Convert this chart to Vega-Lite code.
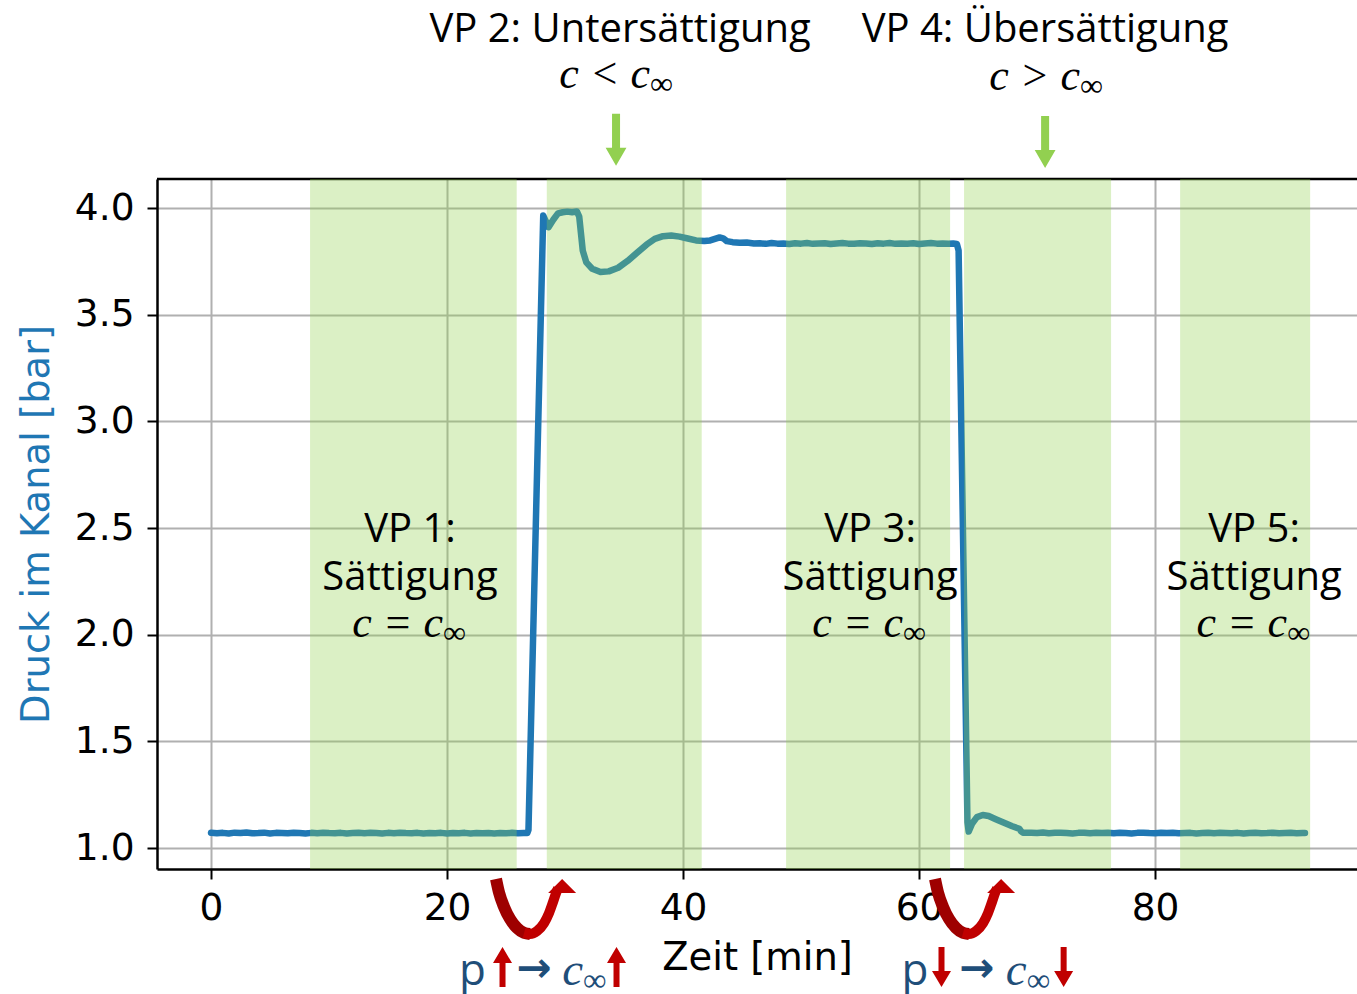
{
  "$schema": "https://vega.github.io/schema/vega-lite/v6.json",
  "width": 1200,
  "height": 690,
  "autosize": {"type": "none"},
  "padding": {"left": 157, "top": 179, "right": 0, "bottom": 125},
  "background": "white",
  "config": {
    "view": {"stroke": null},
    "axis": {
      "domainColor": "black", "domainWidth": 2.5,
      "tickColor": "black", "tickWidth": 2, "tickSize": 10,
      "labelFont": "DejaVu Sans", "labelFontSize": 37.5, "labelColor": "black",
      "labelFlush": false, "labelOverlap": false,
      "titleFont": "DejaVu Sans", "titleFontSize": 38.5, "titleFontWeight": "normal",
      "gridColor": "#b0b0b0", "gridWidth": 2, "gridOpacity": 1
    },
    "text": {"font": "Open Sans", "fontSize": 40, "color": "black"}
  },
  "datasets": {
    "druck": [
      {"t": 0.0, "p": 1.072}, {"t": 0.5, "p": 1.069}, {"t": 1.0, "p": 1.071}, {"t": 1.5, "p": 1.068},
      {"t": 2.0, "p": 1.072}, {"t": 2.5, "p": 1.070}, {"t": 3.0, "p": 1.073}, {"t": 3.5, "p": 1.069},
      {"t": 4.0, "p": 1.070}, {"t": 4.5, "p": 1.072}, {"t": 5.0, "p": 1.068}, {"t": 5.5, "p": 1.071},
      {"t": 6.0, "p": 1.070}, {"t": 6.5, "p": 1.069}, {"t": 7.0, "p": 1.072}, {"t": 7.5, "p": 1.070},
      {"t": 8.0, "p": 1.068}, {"t": 8.5, "p": 1.071}, {"t": 9.0, "p": 1.069}, {"t": 9.5, "p": 1.072},
      {"t": 10.0, "p": 1.070}, {"t": 10.5, "p": 1.069}, {"t": 11.0, "p": 1.071}, {"t": 11.5, "p": 1.068},
      {"t": 12.0, "p": 1.070}, {"t": 12.5, "p": 1.072}, {"t": 13.0, "p": 1.069}, {"t": 13.5, "p": 1.071},
      {"t": 14.0, "p": 1.070}, {"t": 14.5, "p": 1.068}, {"t": 15.0, "p": 1.071}, {"t": 15.5, "p": 1.069},
      {"t": 16.0, "p": 1.072}, {"t": 16.5, "p": 1.070}, {"t": 17.0, "p": 1.069}, {"t": 17.5, "p": 1.071},
      {"t": 18.0, "p": 1.068}, {"t": 18.5, "p": 1.070}, {"t": 19.0, "p": 1.069}, {"t": 19.5, "p": 1.071},
      {"t": 20.0, "p": 1.068}, {"t": 20.5, "p": 1.070}, {"t": 21.0, "p": 1.069}, {"t": 21.5, "p": 1.071},
      {"t": 22.0, "p": 1.068}, {"t": 22.5, "p": 1.070}, {"t": 23.0, "p": 1.069}, {"t": 23.5, "p": 1.070},
      {"t": 24.0, "p": 1.068}, {"t": 24.5, "p": 1.070}, {"t": 25.0, "p": 1.069}, {"t": 25.5, "p": 1.071},
      {"t": 26.0, "p": 1.069}, {"t": 26.5, "p": 1.070}, {"t": 26.8, "p": 1.070},
      {"t": 26.9, "p": 1.085}, {"t": 28.15, "p": 3.965},
      {"t": 28.6, "p": 3.910}, {"t": 29.0, "p": 3.945}, {"t": 29.4, "p": 3.975}, {"t": 29.8, "p": 3.980},
      {"t": 30.2, "p": 3.983}, {"t": 30.6, "p": 3.980}, {"t": 31.0, "p": 3.984}, {"t": 31.2, "p": 3.960},
      {"t": 31.35, "p": 3.880}, {"t": 31.5, "p": 3.800}, {"t": 31.8, "p": 3.745}, {"t": 32.3, "p": 3.715},
      {"t": 33.0, "p": 3.700}, {"t": 33.7, "p": 3.703}, {"t": 34.5, "p": 3.720}, {"t": 35.3, "p": 3.752},
      {"t": 36.1, "p": 3.790}, {"t": 36.9, "p": 3.828}, {"t": 37.6, "p": 3.855}, {"t": 38.3, "p": 3.868},
      {"t": 39.0, "p": 3.871}, {"t": 39.7, "p": 3.866}, {"t": 40.4, "p": 3.857}, {"t": 41.1, "p": 3.848},
      {"t": 41.8, "p": 3.845}, {"t": 42.3, "p": 3.848}, {"t": 42.7, "p": 3.855}, {"t": 43.1, "p": 3.862},
      {"t": 43.4, "p": 3.858}, {"t": 43.7, "p": 3.845}, {"t": 44.2, "p": 3.840}, {"t": 44.8, "p": 3.837},
      {"t": 45.4, "p": 3.838}, {"t": 46.0, "p": 3.834},
      {"t": 46.5, "p": 3.835}, {"t": 47.0, "p": 3.832}, {"t": 47.5, "p": 3.836}, {"t": 48.0, "p": 3.833},
      {"t": 48.5, "p": 3.834}, {"t": 49.0, "p": 3.831}, {"t": 49.5, "p": 3.835}, {"t": 50.0, "p": 3.833},
      {"t": 50.5, "p": 3.836}, {"t": 51.0, "p": 3.832}, {"t": 51.5, "p": 3.834}, {"t": 52.0, "p": 3.835},
      {"t": 52.5, "p": 3.831}, {"t": 53.0, "p": 3.834}, {"t": 53.5, "p": 3.836}, {"t": 54.0, "p": 3.833},
      {"t": 54.5, "p": 3.832}, {"t": 55.0, "p": 3.835}, {"t": 55.5, "p": 3.834}, {"t": 56.0, "p": 3.831},
      {"t": 56.5, "p": 3.835}, {"t": 57.0, "p": 3.833}, {"t": 57.5, "p": 3.836}, {"t": 58.0, "p": 3.832},
      {"t": 58.5, "p": 3.834}, {"t": 59.0, "p": 3.833}, {"t": 59.5, "p": 3.835}, {"t": 60.0, "p": 3.831},
      {"t": 60.5, "p": 3.834}, {"t": 61.0, "p": 3.836}, {"t": 61.5, "p": 3.833}, {"t": 62.0, "p": 3.834},
      {"t": 62.5, "p": 3.832}, {"t": 62.9, "p": 3.834}, {"t": 63.2, "p": 3.832}, {"t": 63.35, "p": 3.800},
      {"t": 64.1, "p": 1.120}, {"t": 64.2, "p": 1.077}, {"t": 64.5, "p": 1.115}, {"t": 64.9, "p": 1.145},
      {"t": 65.4, "p": 1.155}, {"t": 65.9, "p": 1.150}, {"t": 66.5, "p": 1.135}, {"t": 67.2, "p": 1.118},
      {"t": 67.9, "p": 1.102}, {"t": 68.5, "p": 1.090}, {"t": 68.65, "p": 1.078}, {"t": 68.8, "p": 1.072},
      {"t": 69.5, "p": 1.072}, {"t": 70.0, "p": 1.070}, {"t": 70.5, "p": 1.073}, {"t": 71.0, "p": 1.069},
      {"t": 71.5, "p": 1.071}, {"t": 72.0, "p": 1.072}, {"t": 72.5, "p": 1.070}, {"t": 73.0, "p": 1.068},
      {"t": 73.5, "p": 1.071}, {"t": 74.0, "p": 1.072}, {"t": 74.5, "p": 1.069}, {"t": 75.0, "p": 1.071},
      {"t": 75.5, "p": 1.070}, {"t": 76.0, "p": 1.072}, {"t": 76.5, "p": 1.069}, {"t": 77.0, "p": 1.071},
      {"t": 77.5, "p": 1.070}, {"t": 78.0, "p": 1.068}, {"t": 78.5, "p": 1.071}, {"t": 79.0, "p": 1.072},
      {"t": 79.5, "p": 1.070}, {"t": 80.0, "p": 1.069}, {"t": 80.5, "p": 1.071}, {"t": 81.0, "p": 1.070},
      {"t": 81.5, "p": 1.072}, {"t": 82.0, "p": 1.069}, {"t": 82.5, "p": 1.070}, {"t": 83.0, "p": 1.071},
      {"t": 83.5, "p": 1.068}, {"t": 84.0, "p": 1.070}, {"t": 84.5, "p": 1.072}, {"t": 85.0, "p": 1.069},
      {"t": 85.5, "p": 1.071}, {"t": 86.0, "p": 1.070}, {"t": 86.5, "p": 1.069}, {"t": 87.0, "p": 1.071},
      {"t": 87.5, "p": 1.068}, {"t": 88.0, "p": 1.070}, {"t": 88.5, "p": 1.071}, {"t": 89.0, "p": 1.069},
      {"t": 89.5, "p": 1.070}, {"t": 90.0, "p": 1.072}, {"t": 90.5, "p": 1.069}, {"t": 91.0, "p": 1.070},
      {"t": 91.5, "p": 1.071}, {"t": 92.0, "p": 1.069}, {"t": 92.5, "p": 1.070}, {"t": 92.7, "p": 1.070}
    ],
    "phasen": [
      {"phase": "VP 1", "start": 8.39, "ende": 25.9},
      {"phase": "VP 2", "start": 28.45, "ende": 41.58},
      {"phase": "VP 3", "start": 48.73, "ende": 62.63},
      {"phase": "VP 4", "start": 63.81, "ende": 76.27},
      {"phase": "VP 5", "start": 82.12, "ende": 93.14}
    ],
    "phasenText": [
      {"t": 16.86, "p": 2.436, "text": "VP 1:\nSättigung"},
      {"t": 55.85, "p": 2.436, "text": "VP 3:\nSättigung"},
      {"t": 88.39, "p": 2.436, "text": "VP 5:\nSättigung"}
    ],
    "ueberschriften": [
      {"t": 34.66, "p": 4.780, "text": "VP 2: Untersättigung"},
      {"t": 70.68, "p": 4.776, "text": "VP 4: Übersättigung"}
    ],
    "relationen": [
      {"ort": "oben", "t": 37.20, "p": 4.561, "lhs": "c < c"},
      {"ort": "oben", "t": 73.64, "p": 4.553, "lhs": "c > c"},
      {"ort": "phase", "t": 19.66, "p": 1.990, "lhs": "c = c"},
      {"ort": "phase", "t": 58.64, "p": 1.990, "lhs": "c = c"},
      {"ort": "phase", "t": 91.19, "p": 1.990, "lhs": "c = c"},
      {"ort": "achse", "t": 31.53, "p": 0.360, "lhs": "c"},
      {"ort": "achse", "t": 69.12, "p": 0.360, "lhs": "c"}
    ],
    "hinweisPfeile": [
      {"t": 34.32, "p": 4.32},
      {"t": 70.68, "p": 4.31}
    ],
    "umschaltung": [
      {"bogen": "p hoch", "arm": "links", "t": 24.15, "p": 0.855},
      {"bogen": "p hoch", "arm": "links", "t": 24.41, "p": 0.790},
      {"bogen": "p hoch", "arm": "links", "t": 24.83, "p": 0.724},
      {"bogen": "p hoch", "arm": "links", "t": 25.34, "p": 0.667},
      {"bogen": "p hoch", "arm": "links", "t": 25.93, "p": 0.625},
      {"bogen": "p hoch", "arm": "links", "t": 26.53, "p": 0.602},
      {"bogen": "p hoch", "arm": "links", "t": 27.03, "p": 0.597},
      {"bogen": "p hoch", "arm": "rechts", "t": 26.53, "p": 0.602},
      {"bogen": "p hoch", "arm": "rechts", "t": 27.03, "p": 0.597},
      {"bogen": "p hoch", "arm": "rechts", "t": 27.63, "p": 0.611},
      {"bogen": "p hoch", "arm": "rechts", "t": 28.22, "p": 0.648},
      {"bogen": "p hoch", "arm": "rechts", "t": 28.64, "p": 0.695},
      {"bogen": "p hoch", "arm": "rechts", "t": 28.98, "p": 0.747},
      {"bogen": "p hoch", "arm": "rechts", "t": 29.24, "p": 0.789},
      {"bogen": "p hoch", "arm": "rechts", "t": 29.41, "p": 0.812},
      {"bogen": "p runter", "arm": "links", "t": 61.35, "p": 0.855},
      {"bogen": "p runter", "arm": "links", "t": 61.61, "p": 0.790},
      {"bogen": "p runter", "arm": "links", "t": 62.03, "p": 0.724},
      {"bogen": "p runter", "arm": "links", "t": 62.54, "p": 0.667},
      {"bogen": "p runter", "arm": "links", "t": 63.13, "p": 0.625},
      {"bogen": "p runter", "arm": "links", "t": 63.73, "p": 0.602},
      {"bogen": "p runter", "arm": "links", "t": 64.23, "p": 0.597},
      {"bogen": "p runter", "arm": "rechts", "t": 63.73, "p": 0.602},
      {"bogen": "p runter", "arm": "rechts", "t": 64.23, "p": 0.597},
      {"bogen": "p runter", "arm": "rechts", "t": 64.83, "p": 0.611},
      {"bogen": "p runter", "arm": "rechts", "t": 65.42, "p": 0.648},
      {"bogen": "p runter", "arm": "rechts", "t": 65.84, "p": 0.695},
      {"bogen": "p runter", "arm": "rechts", "t": 66.18, "p": 0.747},
      {"bogen": "p runter", "arm": "rechts", "t": 66.44, "p": 0.789},
      {"bogen": "p runter", "arm": "rechts", "t": 66.61, "p": 0.812}
    ],
    "umschaltSpitzen": [
      {"bogen": "p hoch", "t": 29.75, "p": 0.822},
      {"bogen": "p runter", "t": 66.95, "p": 0.822}
    ],
    "trendPfeile": [
      {"t": 24.70, "p": 0.442, "richtung": "hoch"},
      {"t": 34.36, "p": 0.442, "richtung": "hoch"},
      {"t": 61.90, "p": 0.442, "richtung": "runter"},
      {"t": 72.25, "p": 0.442, "richtung": "runter"}
    ],
    "trendZeichen": [
      {"zeichen": "p", "t": 22.16, "p": 0.360},
      {"zeichen": "p", "t": 59.66, "p": 0.360},
      {"zeichen": "→", "t": 27.37, "p": 0.372},
      {"zeichen": "→", "t": 64.89, "p": 0.372}
    ]
  },
  "layer": [
    {
      "data": {"name": "druck"},
      "mark": {"type": "line", "color": "#1f77b4", "strokeWidth": 6.5, "strokeJoin": "round", "strokeCap": "round"},
      "encoding": {
        "x": {
          "field": "t", "type": "quantitative",
          "scale": {"domain": [-4.58, 97.11], "nice": false, "zero": false},
          "axis": {"values": [0, 20, 40, 60, 80], "format": "d", "labelPadding": 10, "title": "Zeit [min]", "titleColor": "black", "titlePadding": 13}
        },
        "y": {
          "field": "p", "type": "quantitative",
          "scale": {"domain": [0.9016, 4.136], "nice": false, "zero": false},
          "axis": {"values": [1, 1.5, 2, 2.5, 3, 3.5, 4], "format": ".1f", "labelPadding": 13, "title": "Druck im Kanal [bar]", "titleColor": "#1f77b4", "titlePadding": 18}
        }
      }
    },
    {
      "data": {"values": [{}]},
      "mark": {"type": "rule", "color": "black", "strokeWidth": 2.5},
      "encoding": {
        "y": {"datum": 4.136, "type": "quantitative"}
      }
    },
    {
      "data": {"name": "phasen"},
      "mark": {"type": "rect", "color": "#92d050", "opacity": 0.33},
      "encoding": {
        "x": {"field": "start", "type": "quantitative"},
        "x2": {"field": "ende"}
      }
    },
    {
      "data": {"name": "phasenText"},
      "mark": {"type": "text", "align": "center", "baseline": "alphabetic", "lineBreak": "\n", "lineHeight": 48, "fontSize": 40},
      "encoding": {
        "x": {"field": "t", "type": "quantitative"},
        "y": {"field": "p", "type": "quantitative"},
        "text": {"field": "text"}
      }
    },
    {
      "data": {"name": "ueberschriften"},
      "mark": {"type": "text", "align": "center", "baseline": "alphabetic", "fontSize": 40},
      "encoding": {
        "x": {"field": "t", "type": "quantitative"},
        "y": {"field": "p", "type": "quantitative"},
        "text": {"field": "text"}
      }
    },
    {
      "data": {"name": "relationen"},
      "transform": [{"filter": "datum.ort !== 'achse'"}],
      "mark": {"type": "text", "align": "right", "baseline": "alphabetic", "font": "Liberation Serif", "fontStyle": "italic", "fontSize": 44},
      "encoding": {
        "x": {"field": "t", "type": "quantitative"},
        "y": {"field": "p", "type": "quantitative"},
        "text": {"field": "lhs"}
      }
    },
    {
      "data": {"name": "relationen"},
      "transform": [{"filter": "datum.ort !== 'achse'"}],
      "mark": {"type": "text", "align": "left", "baseline": "alphabetic", "font": "Liberation Serif", "fontSize": 32, "dy": 6, "text": "∞"},
      "encoding": {
        "x": {"field": "t", "type": "quantitative"},
        "y": {"field": "p", "type": "quantitative"}
      }
    },
    {
      "data": {"name": "relationen"},
      "transform": [{"filter": "datum.ort === 'achse'"}],
      "mark": {"type": "text", "align": "right", "baseline": "alphabetic", "font": "Liberation Serif", "fontStyle": "italic", "fontSize": 47, "color": "#1f4e79"},
      "encoding": {
        "x": {"field": "t", "type": "quantitative"},
        "y": {"field": "p", "type": "quantitative"},
        "text": {"field": "lhs"}
      }
    },
    {
      "data": {"name": "relationen"},
      "transform": [{"filter": "datum.ort === 'achse'"}],
      "mark": {"type": "text", "align": "left", "baseline": "alphabetic", "font": "Liberation Serif", "fontSize": 33, "dy": 6, "color": "#1f4e79", "text": "∞"},
      "encoding": {
        "x": {"field": "t", "type": "quantitative"},
        "y": {"field": "p", "type": "quantitative"}
      }
    },
    {
      "data": {"name": "trendZeichen"},
      "transform": [{"filter": "datum.zeichen === 'p'"}],
      "mark": {"type": "text", "align": "center", "baseline": "alphabetic", "fontSize": 44, "color": "#1f4e79"},
      "encoding": {
        "x": {"field": "t", "type": "quantitative"},
        "y": {"field": "p", "type": "quantitative"},
        "text": {"field": "zeichen"}
      }
    },
    {
      "data": {"name": "trendZeichen"},
      "transform": [{"filter": "datum.zeichen !== 'p'"}],
      "mark": {"type": "text", "align": "center", "baseline": "alphabetic", "font": "DejaVu Sans", "fontWeight": "bold", "fontSize": 42, "color": "#1f4e79"},
      "encoding": {
        "x": {"field": "t", "type": "quantitative"},
        "y": {"field": "p", "type": "quantitative"},
        "text": {"field": "zeichen"}
      }
    },
    {
      "data": {"name": "trendPfeile"},
      "mark": {"type": "point", "filled": true, "opacity": 1, "strokeWidth": 0, "size": 1600, "color": "#c00000"},
      "encoding": {
        "x": {"field": "t", "type": "quantitative"},
        "y": {"field": "p", "type": "quantitative"},
        "shape": {
          "field": "richtung", "type": "nominal", "legend": null,
          "scale": {
            "domain": ["hoch", "runter"],
            "range": [
              "M-0.15,1L-0.15,-0.2L-0.475,-0.2L0,-1L0.475,-0.2L0.15,-0.2L0.15,1Z",
              "M-0.15,-1L-0.15,0.2L-0.475,0.2L0,1L0.475,0.2L0.15,0.2L0.15,-1Z"
            ]
          }
        }
      }
    },
    {
      "data": {"name": "hinweisPfeile"},
      "mark": {"type": "point", "filled": true, "opacity": 1, "strokeWidth": 0, "size": 2704, "color": "#92d050",
               "shape": "M-0.154,-1L0.154,-1L0.154,0.31L0.4,0.31L0,1L-0.4,0.31L-0.154,0.31Z"},
      "encoding": {
        "x": {"field": "t", "type": "quantitative"},
        "y": {"field": "p", "type": "quantitative"}
      }
    },
    {
      "data": {"name": "umschaltung"},
      "transform": [{"filter": "datum.arm === 'links'"}],
      "mark": {"type": "line", "color": "#9e0000", "strokeWidth": 12, "strokeCap": "butt", "interpolate": "monotone"},
      "encoding": {
        "x": {"field": "t", "type": "quantitative"},
        "y": {"field": "p", "type": "quantitative"},
        "detail": {"field": "bogen"}
      }
    },
    {
      "data": {"name": "umschaltung"},
      "transform": [{"filter": "datum.arm === 'rechts'"}],
      "mark": {"type": "line", "color": "#c00000", "strokeWidth": 10, "strokeCap": "butt", "interpolate": "monotone"},
      "encoding": {
        "x": {"field": "t", "type": "quantitative"},
        "y": {"field": "p", "type": "quantitative"},
        "detail": {"field": "bogen"}
      }
    },
    {
      "data": {"name": "umschaltSpitzen"},
      "mark": {"type": "point", "filled": true, "opacity": 1, "strokeWidth": 0, "size": 784, "color": "#c00000",
               "shape": "M-1,0.5L0,-0.5L1,0.5Z"},
      "encoding": {
        "x": {"field": "t", "type": "quantitative"},
        "y": {"field": "p", "type": "quantitative"}
      }
    }
  ]
}
